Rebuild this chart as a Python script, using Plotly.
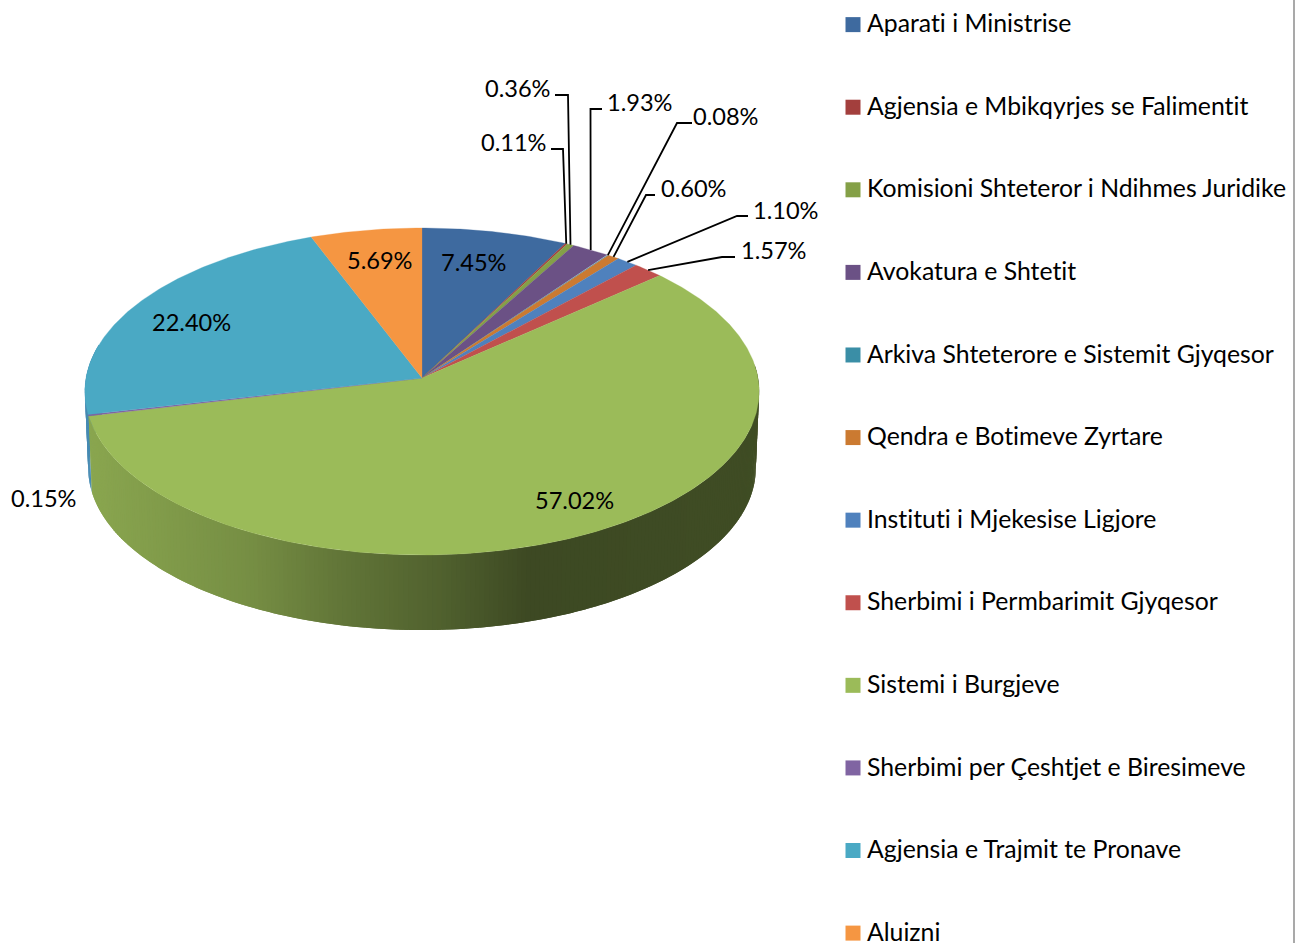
import numpy as np
import plotly.graph_objects as go

# ---------- data ----------
categories = [
    "Aparati i Ministrise", "Agjensia e Mbikqyrjes se Falimentit",
    "Komisioni Shteteror i Ndihmes Juridike", "Avokatura e Shtetit",
    "Arkiva Shteterore e Sistemit Gjyqesor", "Qendra e Botimeve Zyrtare",
    "Instituti i Mjekesise Ligjore", "Sherbimi i Permbarimit Gjyqesor",
    "Sistemi i Burgjeve", "Sherbimi per Çeshtjet e Biresimeve",
    "Agjensia e Trajmit te Pronave", "Aluizni",
]
shares = [7.45, 0.11, 0.36, 1.93, 0.08, 0.60, 1.10, 1.57, 57.02, 0.15, 22.40, 5.69]

# ---------- style ----------
colors = ["#3e6a9f", "#a33f3d", "#84a047", "#6b5185", "#3a8ea6", "#cb7a31",
          "#4f81bd", "#c0504d", "#9bbb59", "#8064a2", "#4aa9c4", "#f59642"]
FONT = "Lato"
LABEL_SIZE = 23.6
LEGEND_SIZE = 24.8

# pie geometry (pixels in a 1295x943 canvas)
CX, CY, A, C, K = 422.0, 378.0, 336.0, 162.4, 0.0826
BOTTOM_SCALE, BOTTOM_DY = 0.99, 76.8

# label centres and leader elbows/ends by slice index
label_xy = {0: (474, 262), 1: (514, 142), 2: (518, 88), 3: (640, 102), 4: (726, 116),
            5: (694, 188), 6: (786, 210), 7: (774, 250), 8: (574, 500), 9: (44, 498),
            10: (191, 322), 11: (380, 260)}
leader_pts = {1: [(563, 149), (551, 149)], 2: [(568, 95), (555, 95)],
              3: [(590.5, 109), (602, 109)], 4: [(677, 123), (692, 123)],
              5: [(646, 195), (655, 195)], 6: [(737, 216), (748, 216)],
              7: [(722, 257), (735, 257)]}


def project(angle, bottom=False):
    X, Y = np.sin(angle), np.cos(angle)
    w = 1 + K * Y
    x, y = A * X / w, C * Y / w
    if bottom:
        return CX + BOTTOM_SCALE * x, CY + BOTTOM_DY - BOTTOM_SCALE * y
    return CX + x, CY - y


def shade(hex_color, f):
    r, g, b = (int(hex_color[i:i + 2], 16) for i in (1, 3, 5))
    return f"rgb({r * f:.0f},{g * f:.0f},{b * f:.0f})"


def side_factor(x):
    return float(np.interp(x, [85, 250, 340, 440, 530, 760],
                           [0.89, 0.76, 0.63, 0.52, 0.39, 0.41]))


total = sum(shares)
edges = np.concatenate([[0], np.cumsum(shares)]) / total * 2 * np.pi
fig = go.Figure()

# side wall in overlapping strips; the far-left slices go first so the front slice covers them
STEP = np.radians(0.75)
for i in [11, 10, 9] + list(range(9)):
    a0, a1 = max(edges[i], np.radians(85)), min(edges[i + 1], np.radians(282))
    if a1 <= a0:
        continue
    n = max(1, int((a1 - a0) / STEP))
    ts = np.linspace(a0, a1, n + 1)
    for t0, t1 in zip(ts[:-1], ts[1:]):
        t2 = min(t1 + STEP, a1)
        seg = np.linspace(t0, t2, 4)
        xt, yt = project(seg)
        xb, yb = project(seg[::-1], True)
        col = shade("#4f9bc8" if i >= 9 else colors[i], side_factor((xt[0] + xt[1]) / 2))
        fig.add_trace(go.Scatter(x=np.r_[xt, xb, xt[0]], y=np.r_[yt, yb, yt[0]], mode="lines",
                                 fill="toself", fillcolor=col, line=dict(width=0),
                                 hoverinfo="skip", showlegend=False))

# top face
for i in range(len(shares)):
    ts = np.linspace(edges[i], edges[i + 1], max(3, int((edges[i + 1] - edges[i]) / 0.01)))
    px, py = project(ts)
    fig.add_trace(go.Scatter(x=np.r_[CX, px, CX], y=np.r_[CY, py, CY], mode="lines", fill="toself",
                             fillcolor=colors[i], line=dict(color=colors[i], width=0.3),
                             name=categories[i], text=[f"{shares[i]:.2f}%"], hoverinfo="name+text",
                             showlegend=False))

# leader lines
for i, pts in leader_pts.items():
    sx, sy = project((edges[i] + edges[i + 1]) / 2)
    fig.add_trace(go.Scatter(x=[sx] + [p[0] for p in pts], y=[sy] + [p[1] for p in pts], mode="lines",
                             line=dict(color="black", width=1.8), hoverinfo="skip", showlegend=False))

# legend entries
for i, c in enumerate(categories):
    fig.add_trace(go.Scatter(x=[None], y=[None], mode="markers", name=c, legendgroup=c,
                             marker=dict(symbol="square", size=15, color=colors[i])))

# data labels
for i, v in enumerate(shares):
    fig.add_annotation(x=label_xy[i][0], y=label_xy[i][1], text=f"{v:.2f}%", showarrow=False,
                       font=dict(family=FONT, size=LABEL_SIZE, color="black"))

fig.add_shape(type="line", x0=1294, x1=1294, y0=0, y1=943, line=dict(color="#8c8c8c", width=1.5))

fig.update_layout(
    width=1295, height=943, margin=dict(l=0, r=0, t=0, b=0), autosize=False,
    paper_bgcolor="white", plot_bgcolor="white",
    xaxis=dict(range=[0, 1295], visible=False, fixedrange=True),
    yaxis=dict(range=[943, 0], visible=False, fixedrange=True),
    legend=dict(x=827 / 1295, y=0.999, xanchor="left", yanchor="top", tracegroupgap=47.35, maxheight=1000,
                font=dict(family=FONT, size=LEGEND_SIZE, color="black"), itemclick=False,
                itemdoubleclick=False, bgcolor="rgba(0,0,0,0)"),
    font=dict(family=FONT),
)
post = """
document.body.style.margin='0';
document.body.style.overflow='hidden';
var st=document.createElement('style');
st.textContent='text{font-variant-ligatures:none !important;}';
document.head.appendChild(st);
function nudge(){document.querySelectorAll('.legendsymbols').forEach(function(g){g.setAttribute('transform','translate(6,2)');});}
nudge();setTimeout(nudge,100);
"""
fig.write_html("out.html", post_script=post, config={"displayModeBar": False})
